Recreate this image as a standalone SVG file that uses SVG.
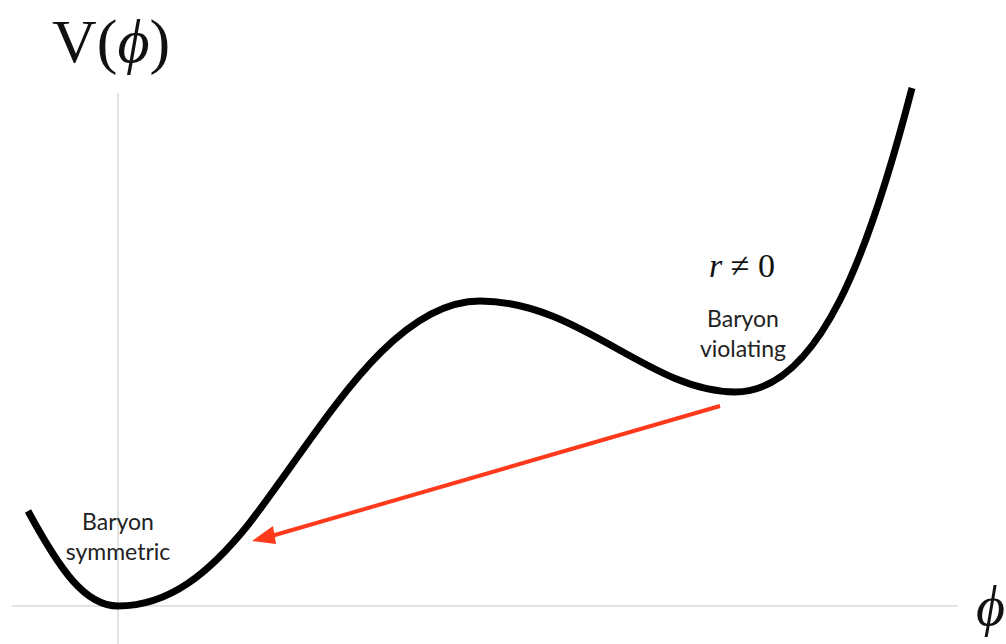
<svg xmlns="http://www.w3.org/2000/svg" width="1006" height="644" viewBox="0 0 1006 644">
<style>
.axis{stroke:#dfe4e4;stroke-width:2;fill:none}
.lbl{font-family:"Lato","Open Sans",sans-serif;font-size:23px;fill:#222;text-anchor:middle}
.math{font-family:"Liberation Serif","DejaVu Serif",serif;fill:#111}
</style>
<g id="axes">
<line class="axis" x1="118" y1="93" x2="118" y2="644"/>
<line class="axis" x1="12" y1="606" x2="958" y2="606"/>
</g>
<g id="curve">
<path d="M28,511 C60,570 85,606 118,606 C170,606 210,572 248,525 C320,432 390,301 480,301 C580,301 650,392 735,392 C820,392 870,250 912,88" fill="none" stroke="#000" stroke-width="7"/>
</g>
<g id="connectors">
<line x1="720" y1="406" x2="268" y2="537" stroke="#ff3a1c" stroke-width="4"/>
<path d="M252,541 L273,526 L276,544 Z" fill="#ff3a1c"/>
</g>
<g id="ylabel"><text class="math" x="52" y="62" font-size="62">V(<tspan font-style="italic">ϕ</tspan>)</text></g>
<g id="xlabel"><text class="math" x="976" y="625" font-size="56" font-style="italic">ϕ</text></g>
<g id="cond"><text class="math" x="742" y="277" font-size="34" text-anchor="middle"><tspan font-style="italic">r</tspan> ≠ 0</text></g>
<g id="violating"><text class="lbl" x="743" y="327">Baryon</text><text class="lbl" x="743" y="357">violating</text></g>
<g id="symmetric"><text class="lbl" x="118" y="530">Baryon</text><text class="lbl" x="118" y="560">symmetric</text></g>
</svg>
